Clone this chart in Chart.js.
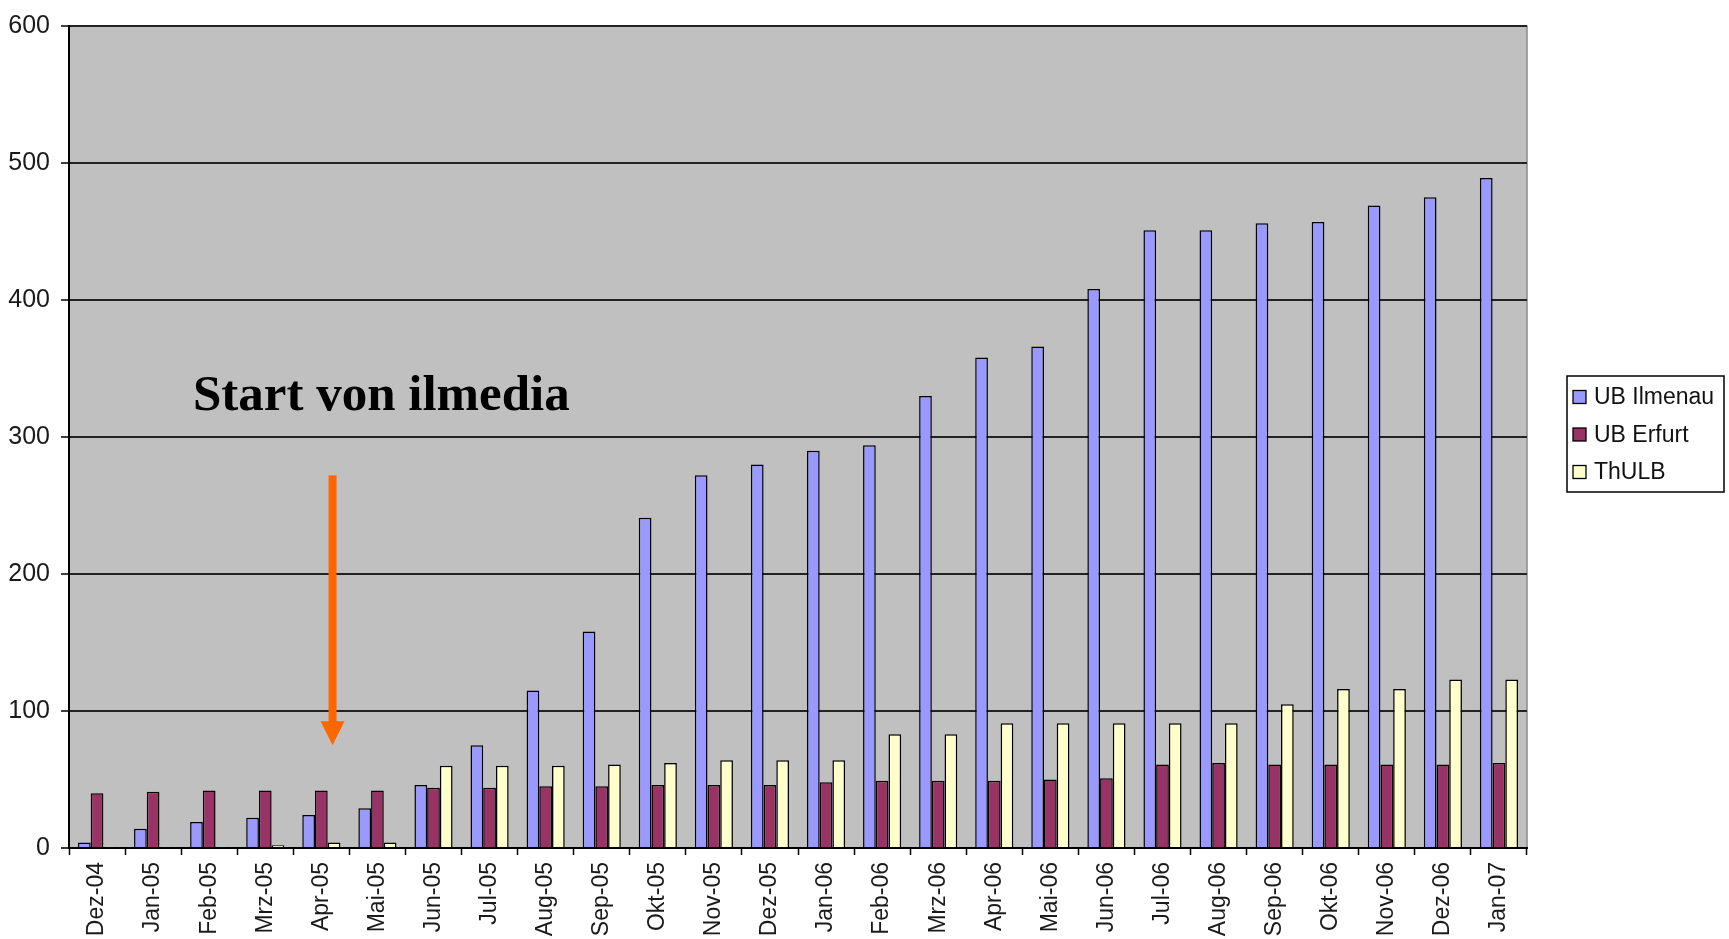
<!DOCTYPE html>
<html>
<head>
<meta charset="utf-8">
<script src="https://cdn.jsdelivr.net/npm/chart.js@4.4.1/dist/chart.umd.min.js"></script>
<style>
  html, body { margin: 0; padding: 0; background: #ffffff; }
  #wrap { width: 1729px; height: 939px; }
</style>
</head>
<body>
<div id="wrap"><canvas id="c" width="1729" height="939"></canvas></div>
<script>
const categories = ['Dez-04','Jan-05','Feb-05','Mrz-05','Apr-05','Mai-05','Jun-05','Jul-05','Aug-05','Sep-05','Okt-05','Nov-05','Dez-05','Jan-06','Feb-06','Mrz-06','Apr-06','Mai-06','Jun-06','Jul-06','Aug-06','Sep-06','Okt-06','Nov-06','Dez-06','Jan-07'];
const ubIlmenau = [4,14,19,22,24,29,46,75,115,158,241,272,280,290,294,330,358,366,408,451,451,456,457,469,475,489];
const ubErfurt  = [40,41,42,42,42,42,44,44,45,45,46,46,46,48,49,49,49,50,51,61,62,61,61,61,61,62];
const thulb     = [1,1,1,2,4,4,60,60,60,61,62,64,64,64,83,83,91,91,91,91,91,105,116,116,123,123];
const seriesNames = ['UB Ilmenau','UB Erfurt','ThULB'];
const yTicks = [0,100,200,300,400,500,600];

const annotationText = 'Start von ilmedia';
const annotationTextPos = { x: 1.71, y: 319.5 };   // category index / value
const arrowPos = { x: 4.2, yTop: 272, yTip: 75 };    // category index / values

const plotBg = {
  id: 'plotBg',
  beforeDraw(chart) {
    const { ctx, chartArea: a } = chart;
    ctx.save();
    ctx.fillStyle = '#ffffff';
    ctx.fillRect(0, 0, chart.width, chart.height);
    ctx.fillStyle = '#c0c0c0';
    ctx.fillRect(a.left, a.top, a.right - a.left, a.bottom - a.top);
    ctx.strokeStyle = '#8a8a8a';
    ctx.lineWidth = 1.5;
    ctx.beginPath();
    ctx.moveTo(a.left, a.top);
    ctx.lineTo(a.right, a.top);
    ctx.lineTo(a.right, a.bottom);
    ctx.stroke();
    ctx.restore();
  }
};

const annot = {
  id: 'annot',
  afterDatasetsDraw(chart) {
    const { ctx } = chart;
    const xs = chart.scales.x, ys = chart.scales.y;
    ctx.save();
    ctx.fillStyle = '#000000';
    ctx.font = 'bold 51px "Liberation Serif", "Times New Roman", serif';
    ctx.textAlign = 'left';
    ctx.textBaseline = 'alphabetic';
    ctx.fillText(annotationText, xs.getPixelForValue(annotationTextPos.x), ys.getPixelForValue(annotationTextPos.y));

    const ax = xs.getPixelForValue(arrowPos.x);
    const yTop = ys.getPixelForValue(arrowPos.yTop);
    const yTip = ys.getPixelForValue(arrowPos.yTip);
    const headH = 24, headW = 24;
    ctx.fillStyle = '#ff6600';
    ctx.fillRect(ax - 4, yTop, 8, (yTip - headH) - yTop + 1);
    ctx.beginPath();
    ctx.moveTo(ax - headW / 2, yTip - headH);
    ctx.lineTo(ax + headW / 2, yTip - headH);
    ctx.lineTo(ax, yTip);
    ctx.closePath();
    ctx.fill();
    ctx.restore();
  }
};

const customLegend = {
  id: 'customLegend',
  afterDraw(chart) {
    const { ctx } = chart;
    const box = { x: 1567, y: 376, w: 157, h: 116 };
    ctx.save();
    ctx.fillStyle = '#ffffff';
    ctx.fillRect(box.x, box.y, box.w, box.h);
    ctx.strokeStyle = '#000000';
    ctx.lineWidth = 1.5;
    ctx.strokeRect(box.x, box.y, box.w, box.h);
    ctx.font = '23px "Liberation Sans", Arial, sans-serif';
    ctx.textBaseline = 'middle';
    ctx.textAlign = 'left';
    chart.data.datasets.forEach((ds, i) => {
      const cy = box.y + 21 + i * 37.5;
      ctx.fillStyle = ds.backgroundColor;
      ctx.fillRect(box.x + 6, cy - 6.5, 13, 13);
      ctx.strokeStyle = '#000000';
      ctx.lineWidth = 1.3;
      ctx.strokeRect(box.x + 6, cy - 6.5, 13, 13);
      ctx.fillStyle = '#111111';
      ctx.fillText(ds.label, box.x + 27, cy + 1);
    });
    ctx.restore();
  }
};

const mkDs = (label, data, color) => ({
  label, data,
  backgroundColor: color,
  borderColor: '#000000',
  borderWidth: 1.5,
  minBarLength: 1,
  categoryPercentage: 0.68,
  barPercentage: 1.0
});

new Chart(document.getElementById('c'), {
  type: 'bar',
  data: {
    labels: categories,
    datasets: [
      mkDs(seriesNames[0], ubIlmenau, '#9999ff'),
      mkDs(seriesNames[1], ubErfurt, '#993366'),
      mkDs(seriesNames[2], thulb, '#ffffcc')
    ]
  },
  options: {
    responsive: false,
    animation: false,
    devicePixelRatio: 1,
    layout: { padding: { left: 0, top: 21, right: 202, bottom: 0 } },
    plugins: {
      legend: { display: false },
      tooltip: { enabled: false }
    },
    scales: {
      x: {
        offset: true,
        grid: {
          display: true,
          offset: true,
          drawOnChartArea: false,
          drawTicks: true,
          tickLength: 7,
          tickColor: '#000000',
          tickWidth: 1.5
        },
        border: { display: true, color: '#000000', width: 2 },
        ticks: {
          minRotation: 90,
          maxRotation: 90,
          autoSkip: false,
          padding: 7,
          color: '#1a1a1a',
          font: { family: '"Liberation Sans", Arial, sans-serif', size: 23 }
        },
        afterFit(scale) { scale.height = 91; }
      },
      y: {
        min: 0,
        max: 600,
        afterBuildTicks(scale) { scale.ticks = yTicks.map(v => ({ value: v })); },
        grid: {
          color: '#222222',
          lineWidth: 2,
          drawTicks: true,
          tickLength: 8,
          tickColor: '#000000',
          tickWidth: 1.5
        },
        border: { display: true, color: '#000000', width: 2 },
        ticks: {
          padding: 11,
          color: '#1a1a1a',
          font: { family: '"Liberation Sans", Arial, sans-serif', size: 25 }
        },
        afterFit(scale) { scale.width = 69; }
      }
    }
  },
  plugins: [plotBg, annot, customLegend]
});
</script>
</body>
</html>
